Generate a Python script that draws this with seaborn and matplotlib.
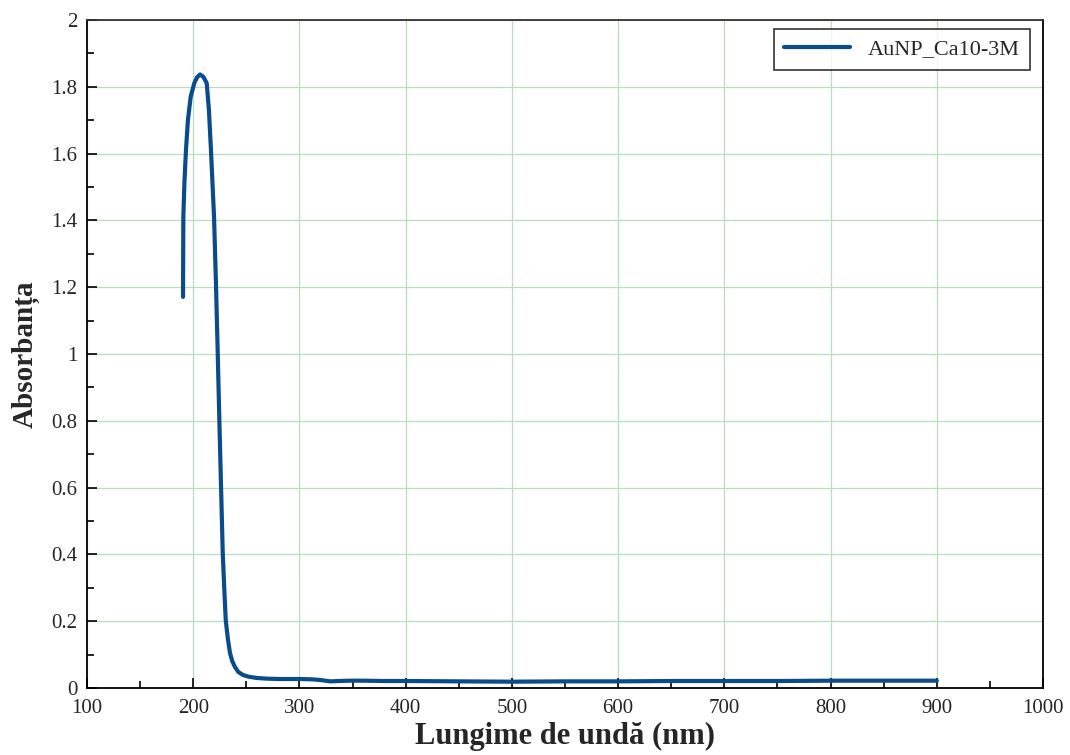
import matplotlib
matplotlib.use("Agg")
import matplotlib.pyplot as plt
import seaborn as sns
import pandas as pd
from matplotlib.ticker import MultipleLocator

wavelength = [190.4, 190.7, 191.8, 193.2, 195.0, 197.6, 201.0, 203.5, 206.4, 209.5,
              212.7, 214.8, 216.7, 219.6, 221.4, 223.0, 224.6, 226.2, 227.8, 229.2,
              230.6, 232.5, 234.6, 236.8, 239.3, 242.5, 246.9, 252.0, 260.0, 270.0,
              281.7, 300.5, 312.0, 320.0, 328.8, 337.0, 346.7, 360.0, 380.0, 400.0,
              450.0, 500.0, 550.0, 600.0, 650.0, 700.0, 750.0, 800.0, 850.0, 900.0]
absorbance = [1.171, 1.410, 1.520, 1.611, 1.700, 1.770, 1.811, 1.828, 1.837, 1.830,
              1.811, 1.730, 1.611, 1.410, 1.213, 1.012, 0.802, 0.602, 0.404, 0.300,
              0.204, 0.150, 0.105, 0.080, 0.063, 0.048, 0.039, 0.034, 0.030, 0.028,
              0.027, 0.027, 0.026, 0.024, 0.020, 0.021, 0.022, 0.022, 0.021, 0.021,
              0.020, 0.019, 0.020, 0.020, 0.021, 0.021, 0.021, 0.022, 0.022, 0.022]
series_name = "AuNP_Ca10-3M"
x_label = "Lungime de undă (nm)"
y_label = "Absorbanța"

df = pd.DataFrame({"wl": wavelength, "abs": absorbance, "s": series_name})

sns.set_theme(style="white")
plt.rcParams["font.family"] = ["Liberation Serif", "DejaVu Serif"]

fig = plt.figure(figsize=(10.7, 7.55), dpi=100)
ax = fig.add_axes([0.0813, 0.0887, 0.8935, 0.8848])

sns.lineplot(data=df, x="wl", y="abs", hue="s", palette=["#0a4b8c"],
             linewidth=3.0, ax=ax, sort=False, estimator=None)

ax.set_xlim(100, 1000)
ax.set_ylim(0, 2)
ax.xaxis.set_major_locator(MultipleLocator(100))
ax.xaxis.set_minor_locator(MultipleLocator(50))
ax.yaxis.set_major_locator(MultipleLocator(0.2))
ax.yaxis.set_minor_locator(MultipleLocator(0.1))
ax.set_yticks([0, 0.2, 0.4, 0.6, 0.8, 1.0, 1.2, 1.4, 1.6, 1.8, 2.0])
ax.set_yticklabels(["0", "0.2", "0.4", "0.6", "0.8", "1", "1.2", "1.4", "1.6", "1.8", "2"])
ax.grid(True, which="major", color="#b9dfb9", linewidth=0.9)
ax.set_axisbelow(True)

ax.tick_params(axis="both", which="major", direction="in", length=7, width=1.2,
               color="black", labelsize=15, bottom=True, left=True,
               top=False, right=False)
ax.tick_params(axis="x", which="major", pad=8)
ax.tick_params(axis="y", which="major", pad=7)
ax.tick_params(axis="both", which="minor", direction="in", length=5, width=1.2,
               color="black", bottom=True, left=True, top=False, right=False)

for sp in ax.spines.values():
    sp.set_visible(True)
    sp.set_color("black")
    sp.set_linewidth(1.3)
ax.spines["top"].set_color("#333333")

ax.set_xlabel(x_label, fontsize=22, fontweight="bold", labelpad=3)
ax.set_ylabel(y_label, fontsize=21, fontweight="bold", labelpad=8)

leg = ax.legend(loc="upper right", fontsize=16, frameon=True, fancybox=False,
                edgecolor="black", handlelength=3.0, borderpad=0.45,
                borderaxespad=0, bbox_to_anchor=(0.9864, 0.9865))
leg.get_frame().set_linewidth(1.2)
leg.set_title(None)

fig.savefig("out.png", dpi=100)
